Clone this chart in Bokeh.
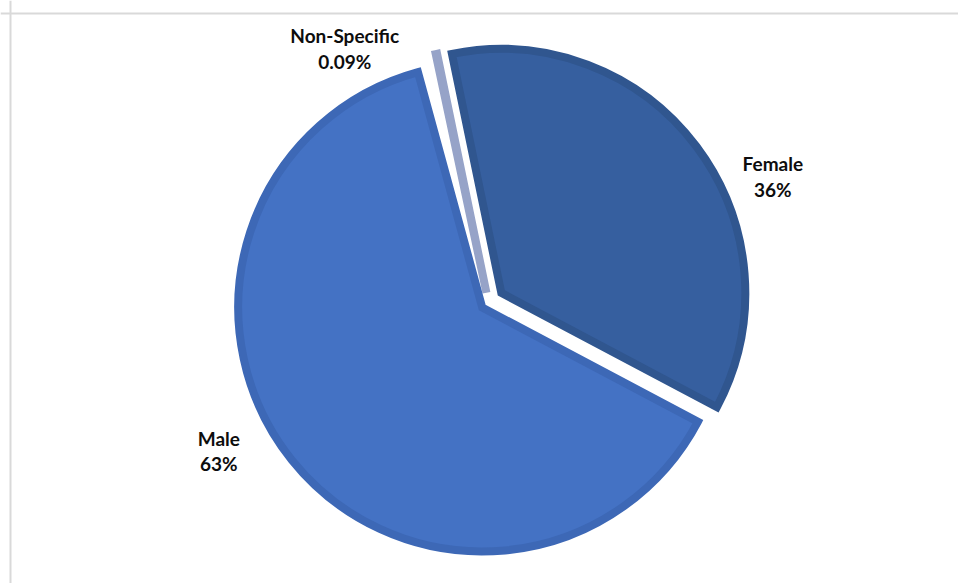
import math
from bokeh.plotting import figure
from bokeh.models import ColumnDataSource, Range1d, Span
from bokeh.core.properties import value
from bokeh.embed import file_html
from bokeh.resources import INLINE

# ---- data (percent of all) ----
categories = ["Non-Specific", "Female", "Male"]
percent = [0.09, 36, 63]
label_texts = ["Non-Specific\n0.09%", "Female\n36%", "Male\n63%"]

# ---- styling / layout ----
fills = ["#9AA7CB", "#365F9F", "#4472C4"]
borders = ["#96A3C8", "#30568F", "#3D68B6"]
border_w = [8, 8, 8]
explode = [10, 16, 8]
label_angle = [119.5, 23.9, 208.9]
label_dist = [292, 311, 308]
start_deg = 102.0
W, H = 958, 583
cx, cy, R = 488, H - 302, 244

p = figure(width=W, height=H, output_backend="svg", toolbar_location=None,
           x_range=Range1d(0, W), y_range=Range1d(0, H),
           x_axis_type=None, y_axis_type=None,
           min_border=0, min_border_left=0, min_border_right=0,
           min_border_top=0, min_border_bottom=0)
p.outline_line_color = None
p.xgrid.visible = False
p.ygrid.visible = False
p.background_fill_color = "white"
p.border_fill_color = "white"

# chart border (left & top visible, rest cut off)
p.add_layout(Span(location=10, dimension="height", line_color="#D9D9D9", line_width=2))
p.add_layout(Span(location=H - 13, dimension="width", line_color="#D9D9D9", line_width=2))

starts, ends, xs, ys = [], [], [], []
cum = 0.0
for v, e in zip(percent, explode):
    s = start_deg - 3.6 * cum
    en = s - 3.6 * v
    mid = math.radians((s + en) / 2)
    starts.append(math.radians(s))
    ends.append(math.radians(en))
    xs.append(cx + e * math.cos(mid))
    ys.append(cy + e * math.sin(mid))
    cum += v

src = ColumnDataSource(dict(x=xs, y=ys, start=starts, end=ends, lw=border_w,
                            fill=fills, line=borders, cat=categories))
p.wedge(x="x", y="y", radius=R, start_angle="start", end_angle="end",
        direction="clock", fill_color="fill", line_color="line",
        line_width="lw", line_join="miter", source=src)

lx = [cx + d * math.cos(math.radians(a)) for a, d in zip(label_angle, label_dist)]
ly = [cy + d * math.sin(math.radians(a)) for a, d in zip(label_angle, label_dist)]
lsrc = ColumnDataSource(dict(x=lx, y=ly, t=label_texts))
p.text(x="x", y="y", text="t", source=lsrc, text_font=value("Lato"),
       text_font_style="bold", text_font_size="19px", text_color="#0D0D0D",
       text_align="center", text_baseline="middle", text_line_height=1.1)

open("out.html", "w").write(file_html(p, INLINE))
